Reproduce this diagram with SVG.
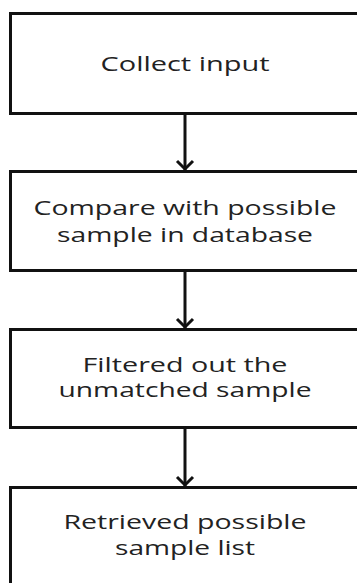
<svg xmlns="http://www.w3.org/2000/svg" width="357" height="583" viewBox="0 0 357 583">
<style>
.box{fill:#fff;stroke:#111;stroke-width:3}
.t{font-family:"Open Sans","Liberation Sans",sans-serif;font-size:20px;fill:#222;text-anchor:middle}
.c{stroke:#111;stroke-width:3;fill:none}
</style>
<defs>
<marker id="ah" markerUnits="userSpaceOnUse" markerWidth="20" markerHeight="20" refX="11" refY="10" orient="auto" viewBox="0 0 20 20">
<path d="M2,2 L10,10 L2,18" fill="none" stroke="#111" stroke-width="3"/>
</marker>
</defs>
<rect width="357" height="583" fill="#fff"/>
<g id="n1"><rect class="box" x="10.5" y="13.5" width="360" height="100"/><text class="t" x="185" y="71" textLength="169" lengthAdjust="spacingAndGlyphs">Collect input</text></g>
<g id="n2"><rect class="box" x="10.5" y="171.5" width="360" height="99"/><text class="t" x="185" y="215" textLength="303" lengthAdjust="spacingAndGlyphs">Compare with possible</text><text class="t" x="185" y="242" textLength="256" lengthAdjust="spacingAndGlyphs">sample in database</text></g>
<g id="n3"><rect class="box" x="10.5" y="329.5" width="360" height="98"/><text class="t" x="185" y="372" textLength="205" lengthAdjust="spacingAndGlyphs">Filtered out the</text><text class="t" x="185" y="397" textLength="253" lengthAdjust="spacingAndGlyphs">unmatched sample</text></g>
<g id="n4"><rect class="box" x="10.5" y="487.5" width="360" height="110"/><text class="t" x="185" y="529" textLength="243" lengthAdjust="spacingAndGlyphs">Retrieved possible</text><text class="t" x="185" y="555" textLength="140" lengthAdjust="spacingAndGlyphs">sample list</text></g>
<g id="connectors">
<line class="c" x1="185" y1="115" x2="185" y2="170" marker-end="url(#ah)"/>
<line class="c" x1="185" y1="272" x2="185" y2="328" marker-end="url(#ah)"/>
<line class="c" x1="185" y1="429" x2="185" y2="486" marker-end="url(#ah)"/>
</g>
</svg>
